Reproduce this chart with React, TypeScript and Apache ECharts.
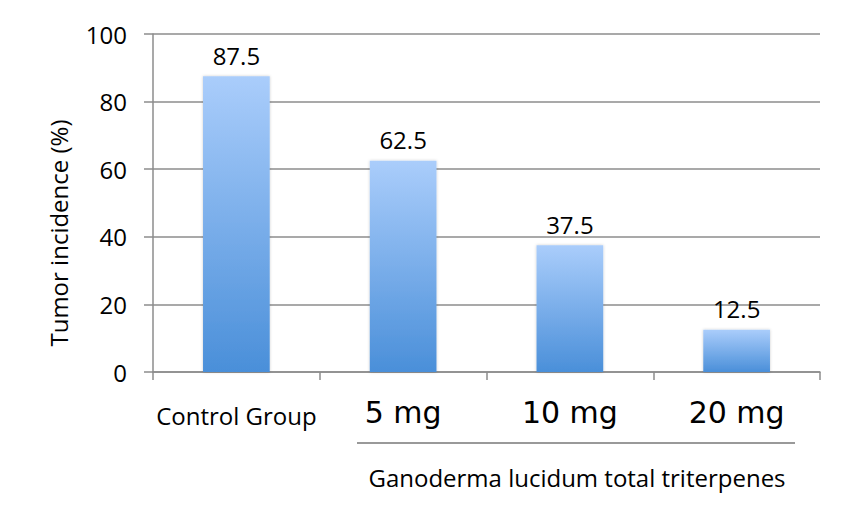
import React, { useEffect, useRef } from "react";
import * as echarts from "echarts";

const categories = ["Control Group", "5 mg", "10 mg", "20 mg"];
const incidence = [87.5, 62.5, 37.5, 12.5];
const yTicks = [0, 20, 40, 60, 80, 100];
const yAxisTitle = "Tumor incidence (%)";
const groupTitle = "Ganoderma lucidum total triterpenes";

export default function App() {
  const ref = useRef<HTMLDivElement>(null);
  useEffect(() => {
    document.body.style.margin = "0";
    if (!ref.current) return;
    const chart = echarts.init(ref.current, null, { renderer: "svg" });
    const font = "'Open Sans', 'Noto Sans', sans-serif";
    chart.setOption({
      animation: false,
      textStyle: { fontFamily: font },
      grid: { left: 153, right: 30, top: 34, bottom: 140 },
      xAxis: {
        type: "category",
        data: categories,
        axisLine: { show: true, lineStyle: { color: "#8c8c8c", width: 1.5 } },
        axisTick: { show: true, length: 8, alignWithLabel: false, lineStyle: { color: "#8c8c8c", width: 1.5 } },
        axisLabel: {
          margin: 22,
          interval: 0,
          formatter: (v: string, i: number) => (i === 0 ? `{a|${v}}` : `{b|${v}}`),
          rich: {
            a: { fontSize: 24, color: "#000", fontFamily: font, height: 36, lineHeight: 36, padding: [6, 0, 0, 0] },
            b: { fontSize: 30, color: "#000", fontFamily: "'DejaVu Sans', sans-serif", height: 36, lineHeight: 36 },
          },
        },
      },
      yAxis: {
        type: "value",
        min: 0,
        max: 100,
        interval: 20,
        axisLine: { show: true, lineStyle: { color: "#8c8c8c", width: 1.5 } },
        axisTick: { show: true, length: 9, lineStyle: { color: "#8c8c8c", width: 1.5 } },
        axisLabel: {
          margin: 26,
          fontSize: 24,
          color: "#000",
          fontFamily: font,
          formatter: (v: number) => (yTicks.includes(v) ? String(v) : ""),
        },
        splitLine: { show: true, lineStyle: { color: "#8c8c8c", width: 1.5 } },
      },
      series: [
        {
          type: "bar",
          data: incidence,
          barWidth: "40%",
          itemStyle: {
            color: new echarts.graphic.LinearGradient(0, 0, 0, 1, [
              { offset: 0, color: "#aacdfb" },
              { offset: 1, color: "#4a8fd9" },
            ]),
            shadowBlur: 3,
            shadowColor: "rgba(0,0,0,0.2)",
          },
          label: {
            show: true,
            position: "top",
            distance: 9,
            fontSize: 24,
            color: "#000",
            fontFamily: font,
            formatter: (p: any) => Number(p.value).toFixed(1),
          },
        },
      ],
      graphic: [
        {
          type: "text",
          x: 58,
          y: 233,
          rotation: Math.PI / 2,
          style: {
            text: yAxisTitle,
            fontSize: 24,
            fill: "#000",
            fontFamily: font,
            align: "center",
            verticalAlign: "middle",
          },
        },
        {
          type: "line",
          shape: { x1: 357, y1: 443, x2: 795, y2: 443 },
          style: { stroke: "#999", lineWidth: 2 },
        },
        {
          type: "text",
          x: 577,
          y: 477,
          style: {
            text: groupTitle,
            fontSize: 24,
            fill: "#000",
            fontFamily: font,
            align: "center",
            verticalAlign: "middle",
          },
        },
      ],
    });
    return () => chart.dispose();
  }, []);
  return <div ref={ref} style={{ width: 850, height: 512 }} />;
}
